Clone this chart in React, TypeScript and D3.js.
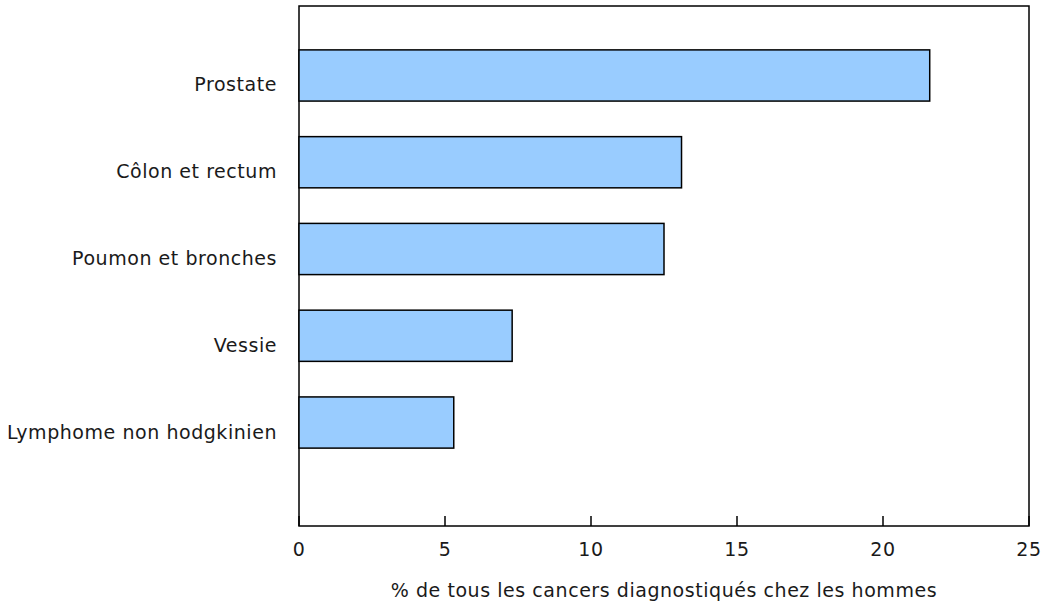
import React, { useEffect, useRef } from 'react';
import * as d3 from 'd3';

const categories = ['Prostate', 'Côlon et rectum', 'Poumon et bronches', 'Vessie', 'Lymphome non hodgkinien'];
const values = [21.6, 13.1, 12.5, 7.3, 5.3];
const xTicks = [0, 5, 10, 15, 20, 25];
const xTitle = '% de tous les cancers diagnostiqués chez les hommes';

export default function App() {
  const svgRef = useRef<SVGSVGElement>(null);

  useEffect(() => {
    if (!svgRef.current) return;
    const svg = d3.select(svgRef.current);
    svg.selectAll('*').remove();

    const left = 299, right = 1029, top = 6, bottom = 526;
    const font = '"DejaVu Sans", Verdana, sans-serif';

    const x = d3.scaleLinear().domain([0, 25]).range([left, right]);
    const y = d3.scaleBand<string>()
      .domain(categories)
      .range([32.1, 465.9])
      .paddingInner(0.41)
      .paddingOuter(0.205);

    const styleText = (sel: d3.Selection<SVGTextElement, any, any, any>) =>
      sel.style('font-family', font)
        .style('font-size', '19px')
        .style('letter-spacing', '0.55px')
        .style('fill', '#1a1a1a');

    // frame
    svg.append('rect')
      .attr('x', left).attr('y', top)
      .attr('width', right - left).attr('height', bottom - top)
      .attr('fill', 'none').attr('stroke', '#000').attr('stroke-width', 1.5);

    // bars
    svg.selectAll('.bar')
      .data(categories)
      .enter()
      .append('rect')
      .attr('class', 'bar')
      .attr('x', x(0))
      .attr('y', d => y(d)!)
      .attr('width', (_d, i) => x(values[i]) - x(0))
      .attr('height', y.bandwidth())
      .attr('fill', '#99ccff')
      .attr('stroke', '#000')
      .attr('stroke-width', 1.5);

    // category labels
    svg.selectAll('.cat')
      .data(categories)
      .enter()
      .append('text')
      .attr('class', 'cat')
      .attr('x', left - 22)
      .attr('y', d => y(d)! + y.bandwidth() / 2 + 16)
      .attr('text-anchor', 'end')
      .call(styleText)
      .text(d => d);

    // x axis ticks (inward)
    const axis = svg.append('g');
    axis.selectAll('line')
      .data(xTicks)
      .enter()
      .append('line')
      .attr('x1', d => x(d)).attr('x2', d => x(d))
      .attr('y1', bottom).attr('y2', bottom - 10)
      .attr('stroke', '#000').attr('stroke-width', 1.5);
    axis.selectAll('text')
      .data(xTicks)
      .enter()
      .append('text')
      .attr('x', d => x(d))
      .attr('y', 556)
      .attr('text-anchor', 'middle')
      .call(styleText)
      .text(d => d3.format('d')(d));

    svg.append('text')
      .attr('x', (left + right) / 2)
      .attr('y', 597)
      .attr('text-anchor', 'middle')
      .call(styleText)
      .text(xTitle);
  }, []);

  return (
    <svg
      ref={svgRef}
      width={1043}
      height={603}
      style={{ position: 'absolute', left: 0, top: 0, background: '#fff' }}
    />
  );
}
